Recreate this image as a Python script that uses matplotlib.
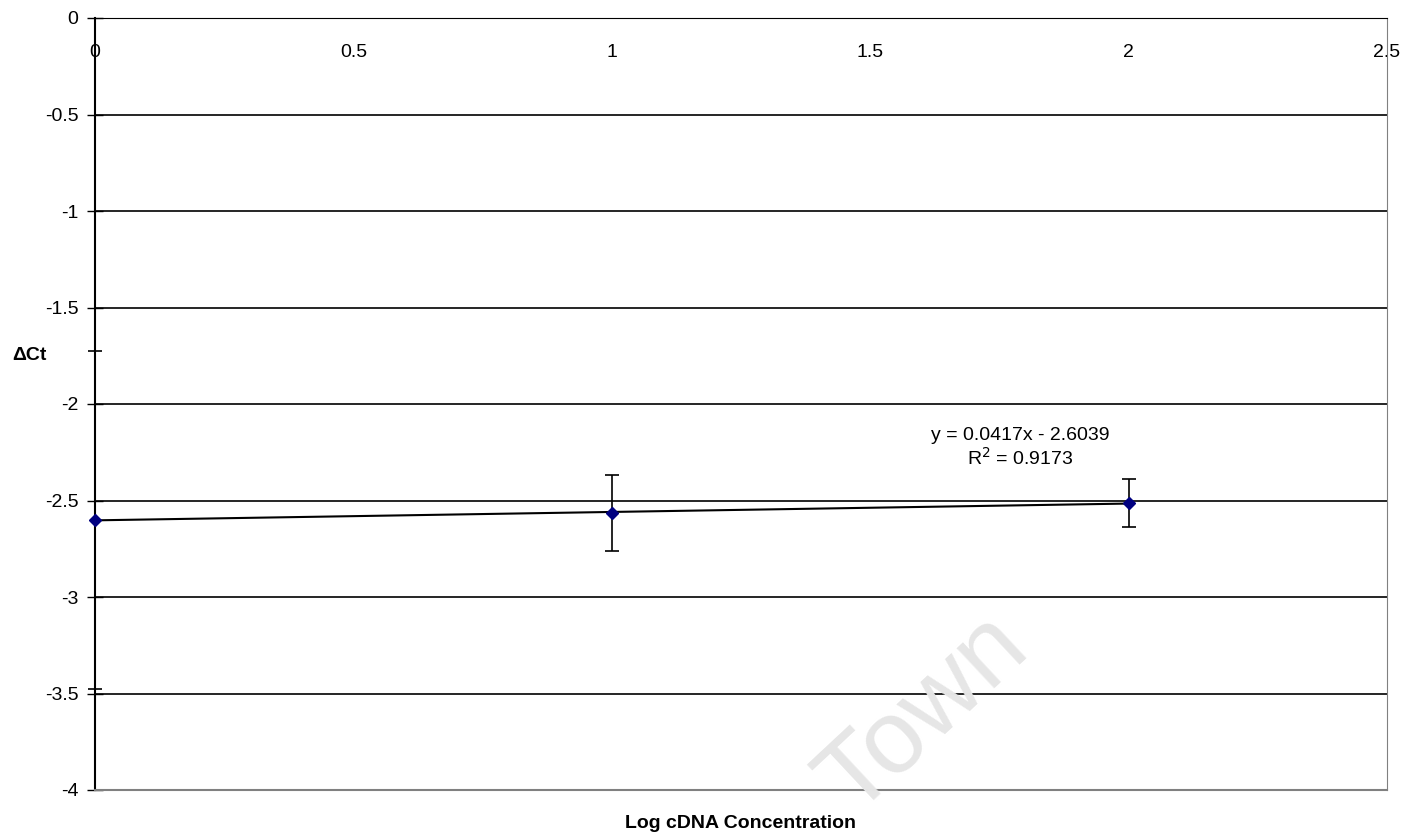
import numpy as np
import matplotlib
matplotlib.use('Agg')
import matplotlib.pyplot as plt

plt.rcParams['font.family'] = ['Liberation Sans', 'DejaVu Sans']

# data
log_conc = [0, 1, 2]
delta_ct = [-2.60, -2.565, -2.513]
err_ct = [0.875, 0.195, 0.125]
x_ticks = [0, 0.5, 1, 1.5, 2, 2.5]
y_ticks = [0, -0.5, -1, -1.5, -2, -2.5, -3, -3.5, -4]

fig = plt.figure(figsize=(14.15, 8.34), dpi=100)
ax = fig.add_axes([95 / 1415, 44 / 834, 1292 / 1415, 772 / 834])

ax.set_xlim(0, 2.5)
ax.set_ylim(-4, 0)

# gridlines
for yv in y_ticks[1:-1]:
    ax.axhline(yv, color='black', lw=1.2, zorder=1)

# linear trendline
slope, icpt = np.polyfit(log_conc, delta_ct, 1)
xt = np.array([0, 2])
ax.plot(xt, slope * xt + icpt, color='black', lw=1.5, zorder=3)

ax.errorbar(log_conc, delta_ct, yerr=err_ct, fmt='D', color='#000080',
            ms=6, ecolor='black', elinewidth=1.2, capsize=5, capthick=1.2,
            zorder=4, clip_on=False)

ax.text(1.79, -2.165, 'y = 0.0417x - 2.6039', ha='center', va='center', fontsize=14)
ax.text(1.79, -2.28, 'R$^2$ = 0.9173', ha='center', va='center', fontsize=14)

# spines
ax.spines['top'].set_color('black')
ax.spines['left'].set_color('black')
ax.spines['left'].set_linewidth(1.5)
ax.spines['right'].set_color('#808080')
ax.spines['bottom'].set_color('#808080')
ax.spines['bottom'].set_linewidth(1.5)

ax.set_yticks(y_ticks)
ax.set_yticklabels([f'{v:g}' for v in y_ticks], fontsize=14)
ax.tick_params(axis='y', length=12, width=1, direction='inout', pad=6)

ax.set_xticks(x_ticks)
ax.xaxis.tick_top()
ax.set_xticklabels([f'{v:g}' for v in x_ticks], fontsize=14)
ax.tick_params(axis='x', length=0, direction='in', pad=-31)

fig.text(12 / 1415, 1 - 355 / 834, 'ΔCt', fontsize=14, fontweight='bold',
         ha='left', va='center')
fig.text(740 / 1415, 1 - 823 / 834, 'Log cDNA Concentration', fontsize=14,
         fontweight='bold', ha='center', va='center')

# faint watermark
fig.text(925 / 1415, 1 - 715 / 834, 'Town', fontsize=75, color='#e6e6e6',
         rotation=43, ha='center', va='center', zorder=0)

fig.savefig('out.png', dpi=100)
